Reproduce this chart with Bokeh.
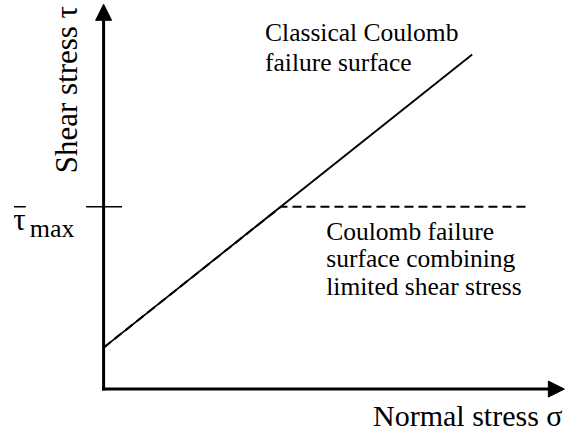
from bokeh.plotting import figure
from bokeh.models import Range1d, Arrow, NormalHead, ColumnDataSource
from bokeh.core.properties import value
from bokeh.embed import file_html
from bokeh.resources import INLINE
import math

# ---- data (conceptual units) ----
classical_sigma = [0.0, 10.0]
classical_tau = [1.24, 10.0]
limited_sigma = [0.0, 4.81, 11.45]
limited_tau = [1.24, 5.45, 5.45]
tau_max = 5.45
sigma_axis_end = 12.50
tau_axis_end = 11.50

label_texts = ["Classical Coulomb", "failure surface",
               "Coulomb failure", "surface combining", "limited shear stress",
               "Normal stress \u03c3", "Shear stress \u03c4", "\u03c4", "max"]
label_x = [4.38, 4.38, 6.04, 6.04, 6.04, 12.45, -1.00, -2.454, -2.005]
label_y = [10.66, 9.77, 4.70, 3.89, 3.08, -0.78, 8.95, 5.06, 4.81]
label_size = ["25.5px", "25.5px", "25.5px", "25.5px", "25.5px", "30px", "31px", "31px", "26px"]
label_angle = [0, 0, 0, 0, 0, 0, math.pi / 2, 0, 0]
label_align = ["left", "left", "left", "left", "left", "right", "center", "left", "left"]

p = figure(width=565, height=432, output_backend="svg", toolbar_location=None,
           x_range=Range1d(-2.797, 12.531), y_range=Range1d(-1.297, 11.614),
           x_axis_type=None, y_axis_type=None, min_border=0)
p.grid.visible = False
p.outline_line_color = None
p.background_fill_color = "white"
p.border_fill_color = "white"

# axes as arrows
p.add_layout(Arrow(end=NormalHead(size=16, fill_color="black", line_color="black", line_width=1),
                   x_start=-0.04, y_start=0, x_end=sigma_axis_end, y_end=0,
                   line_width=3, line_color="black"))
p.add_layout(Arrow(end=NormalHead(size=16, fill_color="black", line_color="black", line_width=1),
                   x_start=0, y_start=-0.04, x_end=0, y_end=tau_axis_end,
                   line_width=3, line_color="black"))

# tick at tau_max and bar over tau
p.segment(x0=[-0.475, -2.43], x1=[0.5, -2.11], y0=[tau_max, tau_max], y1=[tau_max, tau_max],
          line_color="black", line_width=1.6)

# classical Coulomb line
p.line(classical_sigma, classical_tau, line_color="black", line_width=1.8)
# limited shear stress surface
p.line(limited_sigma, limited_tau, line_color="black", line_width=2, line_dash="9 5")

# all texts in one glyph renderer
src = ColumnDataSource(dict(x=label_x, y=label_y, text=label_texts, size=label_size,
                            angle=label_angle, align=label_align))
p.text(x="x", y="y", text="text", angle="angle", source=src,
       text_font=value("Times New Roman"), text_font_size="size", text_color="black",
       text_align="align", text_baseline="middle")

open("out.html", "w").write(file_html(p, INLINE))
